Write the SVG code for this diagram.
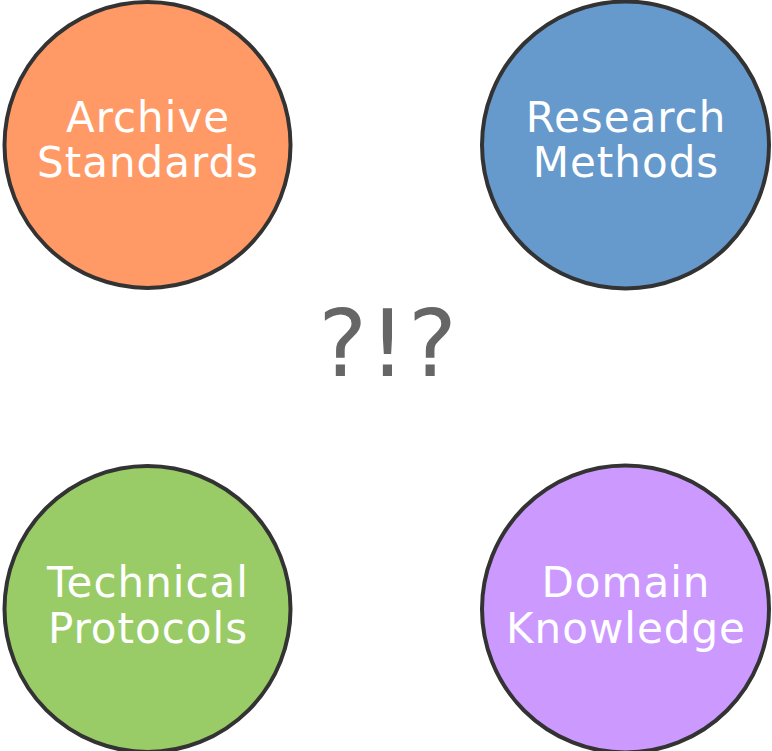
<svg xmlns="http://www.w3.org/2000/svg" width="772" height="751" viewBox="0 0 772 751">
<style>
.c{stroke:#333333;stroke-width:4}
.t{font-family:"DejaVu Sans",Verdana,sans-serif;font-size:42px;fill:#ffffff;text-anchor:middle;letter-spacing:1px}
.q{font-family:"DejaVu Sans",Verdana,sans-serif;font-size:92px;fill:#666666;text-anchor:middle;letter-spacing:2px}
</style>
<rect width="772" height="751" fill="#ffffff"/>
<g id="connectors"></g>
<g id="archive">
<circle class="c" cx="147.5" cy="145" r="143" fill="#FF9966"/>
<text class="t" x="148" y="132">Archive</text>
<text class="t" x="148" y="177">Standards</text>
</g>
<g id="research">
<circle class="c" cx="625.5" cy="145" r="143.5" fill="#6699CC"/>
<text class="t" x="626" y="132">Research</text>
<text class="t" x="626" y="177">Methods</text>
</g>
<g id="technical">
<circle class="c" cx="147.5" cy="609" r="143" fill="#99CC66"/>
<text class="t" x="148" y="597">Technical</text>
<text class="t" x="148" y="643">Protocols</text>
</g>
<g id="domain">
<circle class="c" cx="625.5" cy="609" r="143.5" fill="#CC99FF"/>
<text class="t" x="626" y="597">Domain</text>
<text class="t" x="626" y="643">Knowledge</text>
</g>
<g id="center">
<text class="q" x="388.5" y="376">?!?</text>
</g>
</svg>
